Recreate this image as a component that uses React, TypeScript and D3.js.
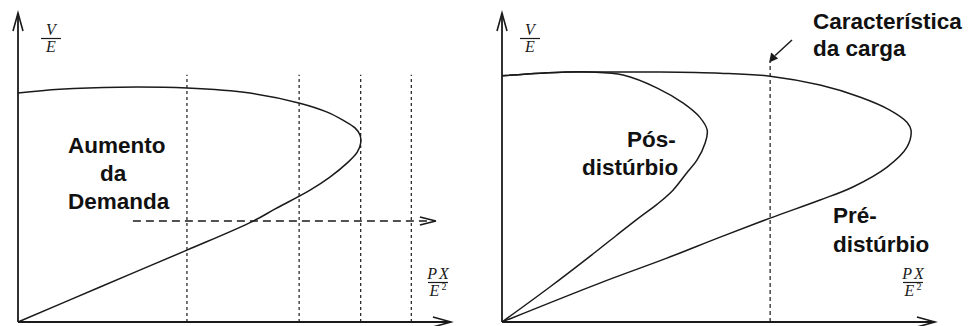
import React from "react";
import * as d3 from "d3";

// PV (nose) curves: [PX/E², V/E]
const demandCurve: [number, number][] = [
  [0, 1.0], [0.061, 1.017], [0.149, 1.026], [0.247, 1.022], [0.339, 1.0],
  [0.412, 0.956], [0.452, 0.917], [0.475, 0.882], [0.493, 0.847], [0.5, 0.817],
  [0.501, 0.782], [0.496, 0.742], [0.481, 0.694], [0.456, 0.633], [0.427, 0.576],
  [0.376, 0.494], [0.344, 0.441], [0.247, 0.314], [0.12, 0.153], [0, 0],
];
const preCurve: [number, number][] = [
  [0, 1.076], [0.056, 1.087], [0.095, 1.092], [0.143, 1.092], [0.231, 1.092],
  [0.319, 1.087], [0.392, 1.074], [0.465, 1.035], [0.523, 0.983], [0.567, 0.926],
  [0.592, 0.873], [0.598, 0.838], [0.592, 0.764], [0.563, 0.677], [0.513, 0.59],
  [0.465, 0.533], [0.392, 0.454], [0.319, 0.371], [0.241, 0.279], [0.143, 0.17], [0, 0],
];
const postCurve: [number, number][] = [
  [0, 1.076], [0.056, 1.087], [0.095, 1.092], [0.129, 1.092], [0.177, 1.079],
  [0.227, 1.022], [0.265, 0.956], [0.289, 0.895], [0.3, 0.838], [0.297, 0.782],
  [0.285, 0.707], [0.27, 0.651], [0.25, 0.576], [0.227, 0.515], [0.202, 0.459],
  [0.168, 0.38], [0.129, 0.288], [0.07, 0.153], [0, 0],
];
const demandLevels = [0.247, 0.411, 0.501, 0.575];
const demandArrow = { v: 0.441, from: 0.168, to: 0.611 };
const loadCharP = 0.392;
const demandLabel = ["Aumento", "da", "Demanda"];
const loadLabel = ["Característica", "da carga"];
const postLabel = ["Pós-", "distúrbio"];
const preLabel = ["Pré-", "distúrbio"];

const W = 972;
const H = 326;
const pxPerP = 684;
const pMax = 0.63;
const vMax = 1.35;
const ink = "#1a1a1a";
const labelFont = "'Liberation Sans', Arial, sans-serif";
const mathFont = "'Liberation Serif', 'DejaVu Serif', serif";

function Frac({ x, top, num, den }: { x: number; top: number; num: string; den: React.ReactNode }) {
  return (
    <g fontFamily={mathFont} fontStyle="italic" fontSize={16} fill={ink} textAnchor="middle" letterSpacing={2}>
      <text x={x + 1} y={top}>{num}</text>
      <line x1={x - 10} x2={x + 10} y1={top + 3.5} y2={top + 3.5} stroke={ink} strokeWidth={1.2} />
      <text x={x + 1} y={top + 17}>{den}</text>
    </g>
  );
}

function Panel({ x0, children }: { x0: number; children: (x: d3.ScaleLinear<number, number>, y: d3.ScaleLinear<number, number>) => React.ReactNode }) {
  const x = d3.scaleLinear().domain([0, pMax]).range([x0, x0 + pMax * pxPerP]);
  const y = d3.scaleLinear().domain([0, vMax]).range([322, 13]);
  const xEnd = x(pMax) + 2;
  const yTop = y(vMax);
  return (
    <g>
      <line x1={x(0)} x2={x(0)} y1={y(0)} y2={yTop} stroke={ink} strokeWidth={1.8} />
      <path d={`M${x(0) - 5},${yTop + 18}L${x(0)},${yTop}L${x(0) + 5},${yTop + 18}`} fill="none" stroke={ink} strokeWidth={1.6} />
      <line x1={x(0)} x2={xEnd} y1={y(0)} y2={y(0)} stroke={ink} strokeWidth={1.8} />
      <path d={`M${xEnd - 18},${y(0) - 5}L${xEnd},${y(0)}L${xEnd - 18},${y(0) + 5}`} fill="none" stroke={ink} strokeWidth={1.6} />
      {children(x, y)}
    </g>
  );
}

export default function App() {
  const line = (x: d3.ScaleLinear<number, number>, y: d3.ScaleLinear<number, number>) =>
    d3.line<[number, number]>().x((d) => x(d[0])).y((d) => y(d[1])).curve(d3.curveCatmullRom.alpha(0.5));
  const sq = (
    <tspan>
      E<tspan fontSize={10} dy={-6} fontStyle="normal">2</tspan>
    </tspan>
  );

  return (
    <div style={{ position: "fixed", left: 0, top: 0 }}>
      <svg width={W} height={H} viewBox={`0 0 ${W} ${H}`} style={{ display: "block", background: "#fff" }}>
        <Panel x0={18}>
          {(x, y) => (
            <g>
              {demandLevels.map((p) => (
                <line key={p} x1={x(p)} x2={x(p)} y1={y(0)} y2={y(1.08)} stroke={ink} strokeWidth={1.2} strokeDasharray="3,3" />
              ))}
              <line x1={x(demandArrow.from)} x2={x(demandArrow.to) - 2} y1={y(demandArrow.v)} y2={y(demandArrow.v)} stroke={ink} strokeWidth={1.5} strokeDasharray="8,5" />
              <path
                d={`M${x(demandArrow.to) - 16},${y(demandArrow.v) - 4}L${x(demandArrow.to)},${y(demandArrow.v)}L${x(demandArrow.to) - 16},${y(demandArrow.v) + 4}`}
                fill="none" stroke={ink} strokeWidth={1.6}
              />
              <path d={line(x, y)(demandCurve) ?? ""} fill="none" stroke={ink} strokeWidth={1.5} />
              <g fontFamily={labelFont} fontWeight="bold" fontSize={22.5} fill="#111">
                <text x={68} y={153}>{demandLabel[0]}</text>
                <text x={100} y={181}>{demandLabel[1]}</text>
                <text x={68} y={209}>{demandLabel[2]}</text>
              </g>
              <Frac x={51} top={35} num="V" den="E" />
              <Frac x={438} top={279} num="PX" den={sq} />
            </g>
          )}
        </Panel>
        <Panel x0={502}>
          {(x, y) => (
            <g>
              <line x1={x(loadCharP)} x2={x(loadCharP)} y1={y(0)} y2={y(1.138)} stroke={ink} strokeWidth={1.2} strokeDasharray="4,3" />
              <line x1={792} y1={40} x2={x(loadCharP) + 5} y2={y(1.138) - 6} stroke={ink} strokeWidth={1.5} />
              <path
                d={`M${x(loadCharP) - 1},${y(1.138) + 1}L${x(loadCharP) + 1},${y(1.138) - 9}L${x(loadCharP) + 8},${y(1.138) - 3}Z`}
                fill={ink}
              />
              <path d={line(x, y)(preCurve) ?? ""} fill="none" stroke={ink} strokeWidth={1.5} />
              <path d={line(x, y)(postCurve) ?? ""} fill="none" stroke={ink} strokeWidth={1.5} />
              <g fontFamily={labelFont} fontWeight="bold" fontSize={22.5} fill="#111">
                <text x={813} y={29}>{loadLabel[0]}</text>
                <text x={813} y={56}>{loadLabel[1]}</text>
                <text x={627} y={147}>{postLabel[0]}</text>
                <text x={582} y={175}>{postLabel[1]}</text>
                <text x={833} y={223}>{preLabel[0]}</text>
                <text x={833} y={252}>{preLabel[1]}</text>
              </g>
              <Frac x={530} top={35} num="V" den="E" />
              <Frac x={913} top={279} num="PX" den={sq} />
            </g>
          )}
        </Panel>
      </svg>
    </div>
  );
}
